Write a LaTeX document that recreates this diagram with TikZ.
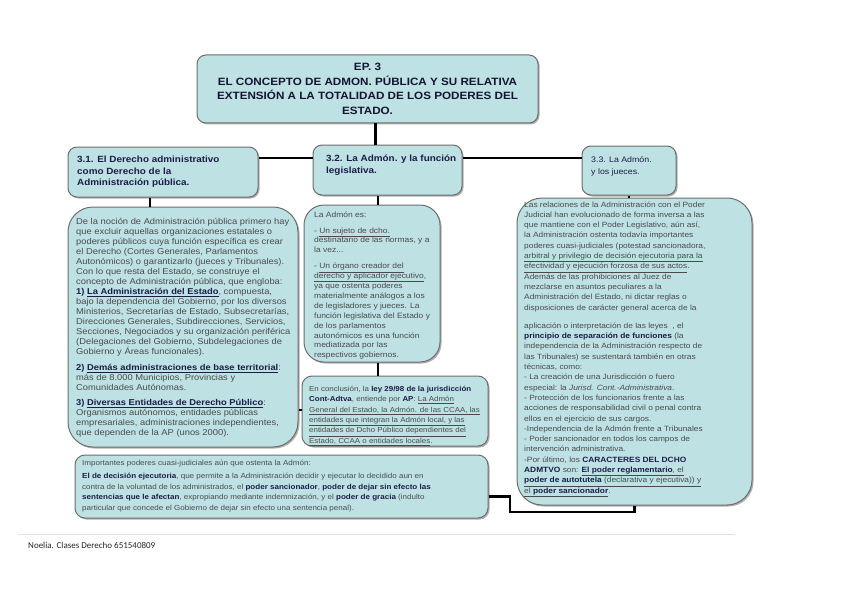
\documentclass[tikz,border=0pt]{standalone}
\usepackage{fontspec}
\setmainfont{Liberation Sans}
\newfontfamily\bx[FakeStretch=1.1]{Liberation Sans}
\newfontfamily\ftr{Carlito}
\usetikzlibrary{shadows}
\definecolor{boxfill}{HTML}{BEE1E4}
\definecolor{boxline}{HTML}{6E6E6E}
\definecolor{navy}{HTML}{1C1C48}
\definecolor{txtc}{HTML}{4A4A4A}
\newcommand\bb[1]{{\bfseries\color{navy}#1}}
\newcommand\uln[1]{\underline{#1}}
\begin{document}
\begin{tikzpicture}[x=1pt,y=-1pt,
  box/.style={draw=boxline, line width=1pt, fill=boxfill, rounded corners=#1,
    drop shadow={shadow xshift=1.5pt, shadow yshift=-1.5pt, opacity=0.45, fill=black!70},
    inner sep=0pt},
  box/.default=9pt,
  txt/.style={anchor=north west, inner sep=0pt, align=left, text=txtc},
  hd/.style={anchor=north west, inner sep=0pt, align=left, text=navy},
  conn/.style={line width=2.8pt, black}]
\useasboundingbox (0,0) rectangle (848,599);
\fill[white] (0,0) rectangle (848,599);

% boxes
\node[box, minimum width=341pt, minimum height=68pt, align=center,
  font={\bx\bfseries\fontsize{10.6}{14.5}\selectfont}, text=navy!70!black] (title) at (367.5,89)
  {EP. 3\\EL CONCEPTO DE ADMON. PÚBLICA Y SU RELATIVA\\EXTENSIÓN A LA TOTALIDAD DE LOS PODERES DEL\\ESTADO.};
\node[box, minimum width=190pt, minimum height=50pt] (lh) at (163,172) {};
\node[box, minimum width=149pt, minimum height=50pt] (mh) at (387.5,170) {};
\node[box, minimum width=94pt, minimum height=49pt] (rh) at (629,170.5) {};
\node[box=25pt, minimum width=230pt, minimum height=240pt] (lb) at (183,327) {};
\node[box=20pt, minimum width=136pt, minimum height=157pt] (mb1) at (372,283.5) {};
\node[box=10pt, minimum width=186pt, minimum height=70pt] (mb2) at (395,411) {};
\node[box=25pt, minimum width=235pt, minimum height=307pt] (rb) at (634.5,351.5) {};
\node[box=10pt, minimum width=413pt, minimum height=63pt] (bx) at (281.5,486.5) {};

% header texts
\node[hd, font={\bx\bfseries\fontsize{9}{11.5}\selectfont}] (lht) at (77,154.3)
  {\strut 3.1. El Derecho administrativo\\como Derecho de la\\Administración pública.};
\node[hd, font={\bx\bfseries\fontsize{9}{11.5}\selectfont}] (mht) at (326,153.3)
  {\strut 3.2. La Admón. y la función\\legislativa.};
\node[hd, font={\bx\fontsize{8}{12}\selectfont}] (rht) at (591,153.7)
  {\strut 3.3. La Admón.\\y los jueces.};

% left box text
\node[txt, font={\bx\fontsize{8.5}{10}\selectfont}] (lbt) at (76,217.2)
{\strut De la noción de Administración pública primero hay\\
que excluir aquellas organizaciones estatales o\\
poderes públicos cuya función específica es crear\\
el Derecho (Cortes Generales, Parlamentos\\
Autonómicos) o garantizarlo (jueces y Tribunales).\\
Con lo que resta del Estado, se construye el\\
concepto de Administración pública, que engloba:\\
\bb{1) \uln{La Administración del Estado}}, compuesta,\\
bajo la dependencia del Gobierno, por los diversos\\
Ministerios, Secretarías de Estado, Subsecretarías,\\
Direcciones Generales, Subdirecciones, Servicios,\\
Secciones, Negociados y su organización periférica\\
(Delegaciones del Gobierno, Subdelegaciones de\\
Gobierno y Áreas funcionales).\\[6pt]
\bb{2) \uln{Demás administraciones de base territorial}}:\\
más de 8.000 Municipios, Provincias y\\
Comunidades Autónomas.\\[5pt]
\bb{3) \uln{Diversas Entidades de Derecho Público}}:\\
Organismos autónomos, entidades públicas\\
empresariales, administraciones independientes,\\
que dependen de la AP (unos 2000).};

% middle box 1
\node[txt, font={\bx\fontsize{7.7}{9.9}\selectfont}] (mb1t) at (314,210)
{\strut La Admón es:\\[6pt]
- \uln{Un sujeto de dcho.}\\
destinatario de las normas, y a\\
la vez...\\[6pt]
- \uln{Un órgano creador del}\\
\uln{derecho y aplicador ejecutivo},\\
ya que ostenta poderes\\
materialmente análogos a los\\
de legisladores y jueces. La\\
función legislativa del Estado y\\
de los parlamentos\\
autonómicos es una función\\
mediatizada por las\\
respectivos gobiernos.};

% middle box 2
\node[txt, font={\bx\fontsize{7.2}{10.4}\selectfont}] (mb2t) at (309,383.8)
{\strut En conclusión, la \bb{ley 29/98 de la jurisdicción}\\
\bb{Cont-Adtva}, entiende por \bb{AP}: \uln{La Admón}\\
\uln{General del Estado, la Admón. de las CCAA, las}\\
\uln{entidades que integran la Admón local, y las}\\
\uln{entidades de Dcho Público dependientes del}\\
\uln{Estado, CCAA o entidades locales}.};

% right box
\node[txt, font={\bx\fontsize{7.6}{10.3}\selectfont}] (rbt) at (524,199.6)
{\strut Las relaciones de la Administración con el Poder\\
Judicial han evolucionado de forma inversa a las\\
que mantiene con el Poder Legislativo, aún así,\\
la Administración ostenta todavía importantes\\
poderes cuasi-judiciales (potestad sancionadora,\\
\uln{arbitral y privilegio de decisión ejecutoria para la}\\
\uln{efectividad y ejecución forzosa de sus actos}.\\
Además de las prohibiciones al Juez de\\
mezclarse en asuntos peculiares a la\\
Administración del Estado, ni dictar reglas o\\
disposiciones de carácter general acerca de la\\[8pt]
aplicación o interpretación de las leyes\ \ , el\\
\bb{principio de separación de funciones} (la\\
independencia de la Administración respecto de\\
las Tribunales) se sustentará también en otras\\
técnicas, como:\\
- La creación de una Jurisdicción o fuero\\
especial: la \textit{Jurisd. Cont.-Administrativa}.\\
- Protección de los funcionarios frente a las\\
acciones de responsabilidad civil o penal contra\\
ellos en el ejercicio de sus cargos.\\
-Independencia de la Admón frente a Tribunales\\
- Poder sancionador en todos los campos de\\
intervención administrativa.\\
-Por último, los \bb{CARACTERES DEL DCHO}\\
\bb{ADMTVO} son: \uln{\bb{El poder reglamentario}, el}\\
\uln{\bb{poder de autotutela} (declarativa y ejecutiva)) y}\\
\uln{el \bb{poder sancionador}}.};

% bottom box
\node[txt, font={\bx\fontsize{7.3}{10.5}\selectfont}] (bxt) at (82,457.8)
{\strut Importantes poderes cuasi-judiciales aún que ostenta la Admón:\\[3pt]
\bb{El de decisión ejecutoria}, que permite a la Administración decidir y ejecutar lo decidido aun en\\
contra de la voluntad de los administrados, el \bb{poder sancionador}, \bb{poder de dejar sin efecto las}\\
\bb{sentencias que le afectan}, expropiando mediante indemnización, y el \bb{poder de gracia} (indulto\\
particular que concede el Gobierno de dejar sin efecto una sentencia penal).};

% connectors
\coordinate (t1) at ([xshift=8pt]title.south);
\draw[conn] (t1) -- (t1 |- mh.north);
\coordinate (h1) at ([yshift=14pt]lh.east);
\draw[conn] (h1) -- (h1 -| mh.west);
\coordinate (h2) at ([yshift=12pt]mh.east);
\draw[conn] (h2) -- (h2 -| rh.west);
\coordinate (v1) at ([xshift=-13pt]lh.south);
\draw[conn] (v1) -- (v1 |- lb.north);
\coordinate (v2) at ([xshift=6pt]mb1.north);
\draw[conn] (v2 |- mh.south) -- (v2);
\coordinate (v3) at ([xshift=6pt]mb1.south);
\draw[conn] (v3) -- (v3 |- mb2.north);
\draw[conn] (rh.south) -- (rh.south |- rb.north);
\coordinate (h3) at ([yshift=-83pt]lb.east);
\draw[conn] (h3) -- (h3 -| mb2.west);
\coordinate (b1) at ([yshift=-10pt]bx.east);
\coordinate (k1) at (510,512);
\draw[conn] (b1) -| (k1) -| (rb.south);

% footer
\coordinate (fl1) at (18,534);
\coordinate (fl2) at (735,534);
\draw[black!12, line width=0.6pt] (fl1) -- (fl2);
\node[anchor=base west, inner sep=0pt, font={\ftr\fontsize{9}{10}\selectfont}, text=black!85] (foot) at (28,548)
  {Noelia. Clases Derecho 651540809};
\end{tikzpicture}
\end{document}
